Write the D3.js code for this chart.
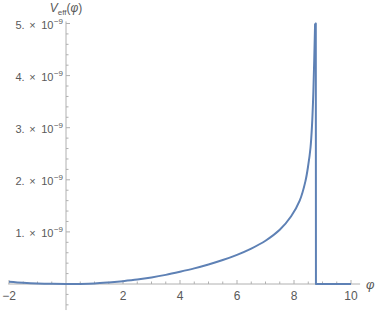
<!DOCTYPE html>
<html><head><meta charset="utf-8">
<script src="https://cdn.jsdelivr.net/npm/d3@7"></script>
<style>body{margin:0;background:#fff}svg{display:block}</style>
</head><body>
<svg id="c" width="378" height="312"></svg>
<script>
// data (values in units of 1e-9)
// smooth rising branch
const phi = [-2, -1.5, -1, -0.5, 0, 0.5, 1, 1.5, 2, 2.5, 3, 3.5, 4, 4.5, 5, 5.5, 6, 6.5, 7, 7.5, 7.9, 8.2, 8.4, 8.5, 8.58, 8.63, 8.68, 8.74];
const veff = [0.045, 0.025, 0.011, 0.003, 0, 0.002, 0.01, 0.03, 0.055, 0.085, 0.125, 0.175, 0.235, 0.3, 0.375, 0.46, 0.56, 0.68, 0.83, 1.04, 1.3, 1.6, 1.97, 2.28, 2.62, 3.02, 3.7, 5.0];
// drop and flat branch
const phiDrop = [8.74, 8.765, 8.77, 10];
const veffDrop = [5.0, 5.0, 0, 0];
const xTicks = [-2, 2, 4, 6, 8, 10];
const xTickLabels = ["\u22122", "2", "4", "6", "8", "10"];
const yTicks = [1, 2, 3, 4, 5];
const yTickLabels = ["1.", "2.", "3.", "4.", "5."];
const yExponent = "\u22129";

const svg = d3.select("#c");
const x = d3.scaleLinear().domain([0, 10]).range([66, 351]);
const y = d3.scaleLinear().domain([0, 5]).range([284, 23.5]);
const xMin = -2.03, xMax = 10.32, yMin = -0.5, yMax = 5.04;
const axisCol = "#b0b0b0", textCol = "#595959";
const font = "'Liberation Sans', Arial, sans-serif";

// axes lines
svg.append("line").attr("x1", x(xMin)).attr("x2", x(xMax)).attr("y1", y(0)).attr("y2", y(0))
  .attr("stroke", axisCol).attr("stroke-width", 1);
svg.append("line").attr("x1", x(0)).attr("x2", x(0)).attr("y1", y(yMin)).attr("y2", y(yMax))
  .attr("stroke", axisCol).attr("stroke-width", 1);

// x ticks (major every 2, minor every 0.5)
const xMinor = d3.range(-2, 10.01, 0.5).filter(v => v !== 0);
svg.append("g").selectAll("line").data(xMinor).join("line")
  .attr("x1", d => x(d)).attr("x2", d => x(d))
  .attr("y1", y(0)).attr("y2", d => y(0) - (Math.abs(d % 2) < 1e-9 ? 4 : 2.5))
  .attr("stroke", axisCol).attr("stroke-width", 1);
svg.append("g").selectAll("text").data(xTicks).join("text")
  .attr("x", d => x(d)).attr("y", y(0) + 16)
  .attr("text-anchor", "middle").attr("font-family", font).attr("font-size", 12)
  .attr("fill", textCol).text((d, i) => xTickLabels[i]);

// y ticks (major every 1, minor every 0.2)
const yMinor = d3.range(-0.4, 5.01, 0.2).map(v => Math.round(v * 10) / 10).filter(v => v !== 0);
svg.append("g").selectAll("line").data(yMinor).join("line")
  .attr("y1", d => y(d)).attr("y2", d => y(d))
  .attr("x1", x(0)).attr("x2", d => x(0) + (Math.abs(d - Math.round(d)) < 1e-9 ? 4 : 2.5))
  .attr("stroke", axisCol).attr("stroke-width", 1);
const yl = svg.append("g").selectAll("text").data(yTicks).join("text")
  .attr("x", 63).attr("y", d => y(d) + 5.5)
  .attr("text-anchor", "end").attr("font-family", font).attr("font-size", 11)
  .attr("fill", textCol);
yl.append("tspan").text((d, i) => yTickLabels[i]);
yl.append("tspan").attr("dx", 4.5).text("\u00d7");
yl.append("tspan").attr("dx", 5.5).text("10");
yl.append("tspan").attr("dx", 0.5).attr("dy", -5).attr("font-size", 8).text(yExponent);

// curve
const clipId = "clip";
svg.append("clipPath").attr("id", clipId).append("rect")
  .attr("x", x(xMin)).attr("y", y(yMax) - 1).attr("width", x(xMax) - x(xMin)).attr("height", y(yMin) - y(yMax) + 1);
const lineSmooth = d3.line().x(d => x(d[0])).y(d => y(d[1])).curve(d3.curveCatmullRom.alpha(0.5));
const lineStraight = d3.line().x(d => x(d[0])).y(d => y(d[1]));
svg.append("path").datum(phi.map((p, i) => [p, veff[i]]))
  .attr("clip-path", `url(#${clipId})`)
  .attr("fill", "none").attr("stroke", "#5e81b5").attr("stroke-width", 2)
  .attr("stroke-linejoin", "round").attr("d", lineSmooth);
svg.append("path").datum(phiDrop.map((p, i) => [p, veffDrop[i]]))
  .attr("clip-path", `url(#${clipId})`)
  .attr("fill", "none").attr("stroke", "#5e81b5").attr("stroke-width", 2)
  .attr("stroke-linejoin", "round").attr("d", lineStraight);

// axis labels
const vl = svg.append("text").attr("x", x(0)).attr("y", 12).attr("text-anchor", "middle")
  .attr("font-family", font).attr("font-size", 12).attr("fill", textCol);
vl.append("tspan").attr("font-style", "italic").text("V");
vl.append("tspan").attr("font-size", 8).attr("dy", 2.5).text("eff");
vl.append("tspan").attr("dy", -2.5).text("(");
vl.append("tspan").attr("font-style", "italic").text("\u03c6");
vl.append("tspan").text(")");
svg.append("text").attr("x", 366).attr("y", y(0) + 5)
  .attr("font-family", font).attr("font-size", 13).attr("font-style", "italic")
  .attr("fill", textCol).text("\u03c6");
</script>
</body></html>
